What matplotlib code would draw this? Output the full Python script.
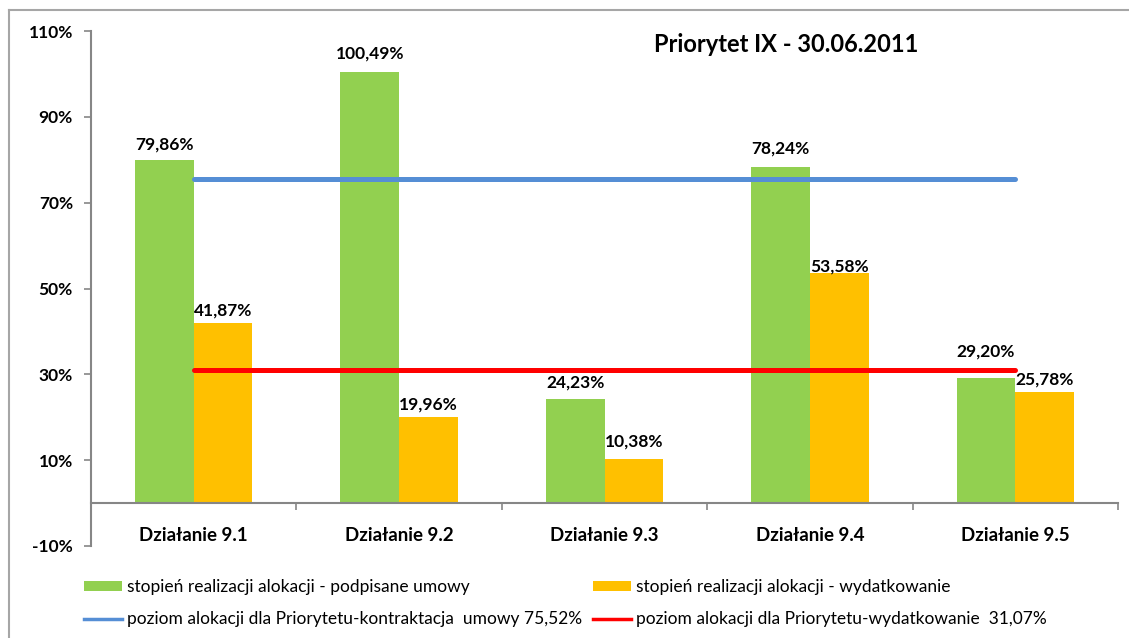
import matplotlib
matplotlib.use("Agg")
import matplotlib.pyplot as plt
from matplotlib.lines import Line2D
from matplotlib.patches import Patch
import numpy as np

plt.rcParams['font.family'] = ['Lato', 'DejaVu Sans']

categories = ["Działanie 9.1", "Działanie 9.2", "Działanie 9.3", "Działanie 9.4", "Działanie 9.5"]
umowy = [79.86, 100.49, 24.23, 78.24, 29.20]
wydatki = [41.87, 19.96, 10.38, 53.58, 25.78]
umowy_labels = ["79,86%", "100,49%", "24,23%", "78,24%", "29,20%"]
wydatki_labels = ["41,87%", "19,96%", "10,38%", "53,58%", "25,78%"]
poziom_kontraktacja = 75.52
poziom_wydatkowanie = 31.07
yticks = [-10, 10, 30, 50, 70, 90, 110]
title = "Priorytet IX - 30.06.2011"
legend_labels = [
    "stopień realizacji alokacji - podpisane umowy",
    "stopień realizacji alokacji - wydatkowanie",
    "poziom alokacji dla Priorytetu-kontraktacja  umowy 75,52%",
    "poziom alokacji dla Priorytetu-wydatkowanie  31,07%",
]

# label placement (pixel gap between bar top and label baseline), styling only
umowy_gap = [11, 13, 12, 14, 21]
wydatki_gap = [8, 8, 12, 2, 8]

GREEN = "#92D050"
ORANGE = "#FFC000"
BLUE = "#558ED5"
RED = "#FF0000"
GRAY = "#868686"

W, H = 1129, 638
fig = plt.figure(figsize=(W / 100, H / 100), dpi=100)
ax = fig.add_axes([91 / W, 1 - 546 / H, (1118 - 91) / W, (546 - 31) / H])

x = np.arange(len(categories))
bw = 1 / 3.5
ax.bar(x - bw / 2, umowy, width=bw, color=GREEN, zorder=2)
ax.bar(x + bw / 2, wydatki, width=bw, color=ORANGE, zorder=2)

ax.plot([x[0], x[-1]], [poziom_kontraktacja] * 2, color=BLUE, lw=3.6,
        solid_capstyle='round', zorder=3)
ax.plot([x[0], x[-1]], [poziom_wydatkowanie] * 2, color=RED, lw=3.6,
        solid_capstyle='round', zorder=3)

for xi, v, lab, g in zip(x, umowy, umowy_labels, umowy_gap):
    ax.annotate(lab, (xi - bw / 2, v), xytext=(0, g), textcoords='offset pixels',
                ha='center', va='baseline', fontsize=12.5, fontweight='bold', zorder=4)
for xi, v, lab, g in zip(x, wydatki, wydatki_labels, wydatki_gap):
    ax.annotate(lab, (xi + bw / 2, v), xytext=(0, g), textcoords='offset pixels',
                ha='center', va='baseline', fontsize=12.5, fontweight='bold', zorder=4)

ax.set_xlim(-0.5, len(categories) - 0.5)
ax.set_ylim(-10, 110)
ax.set_yticks(yticks)
ax.set_yticklabels([f"{t}%" for t in yticks])
for t in ax.get_yticklabels():
    t.set_fontsize(12.5)
    t.set_fontweight('bold')

ax.set_xticks(np.arange(len(categories) + 1) - 0.5)
ax.set_xticklabels([])
ax.tick_params(axis='x', which='major', length=5, color=GRAY, width=1.2)
ax.tick_params(axis='y', length=5, color=GRAY, width=1.2, pad=8)

for xi, c in zip(x, categories):
    ax.annotate(c, (xi, 0), xytext=(0, -32), textcoords='offset pixels',
                ha='center', va='center', fontsize=13.5, fontweight='bold')

for s in ['top', 'right']:
    ax.spines[s].set_visible(False)
ax.spines['left'].set_color(GRAY)
ax.spines['left'].set_linewidth(1.5)
ax.spines['bottom'].set_color(GRAY)
ax.spines['bottom'].set_linewidth(1.5)
ax.spines['bottom'].set_position(('data', 0))

ax.text((786 - 91) / 1027, (546 - 45) / 515, title, transform=ax.transAxes,
        fontsize=17, fontweight='bold', ha='center', va='center')

# chart border (top and left visible)
fig.add_artist(Line2D([9 / W, 1.0], [1 - 10 / H] * 2, color="#A6A6A6", lw=1.5))
fig.add_artist(Line2D([9 / W] * 2, [1 - 10 / H, 0], color="#A6A6A6", lw=1.5))

col1 = [Patch(facecolor=GREEN, edgecolor='none'), Line2D([], [], color=BLUE, lw=2.5)]
col2 = [Patch(facecolor=ORANGE, edgecolor='none'), Line2D([], [], color=RED, lw=2.5)]
kw = dict(loc='upper left', frameon=False, fontsize=12.5,
          handlelength=2.2, handleheight=0.55, handletextpad=0.25,
          labelspacing=0.95, borderaxespad=0, borderpad=0)
fig.legend(col1, [legend_labels[0], legend_labels[2]],
           bbox_to_anchor=(84 / W, 1 - 579 / H), **kw)
fig.legend(col2, [legend_labels[1], legend_labels[3]],
           bbox_to_anchor=(593 / W, 1 - 579 / H), **kw)

fig.savefig("out.png", dpi=100)
